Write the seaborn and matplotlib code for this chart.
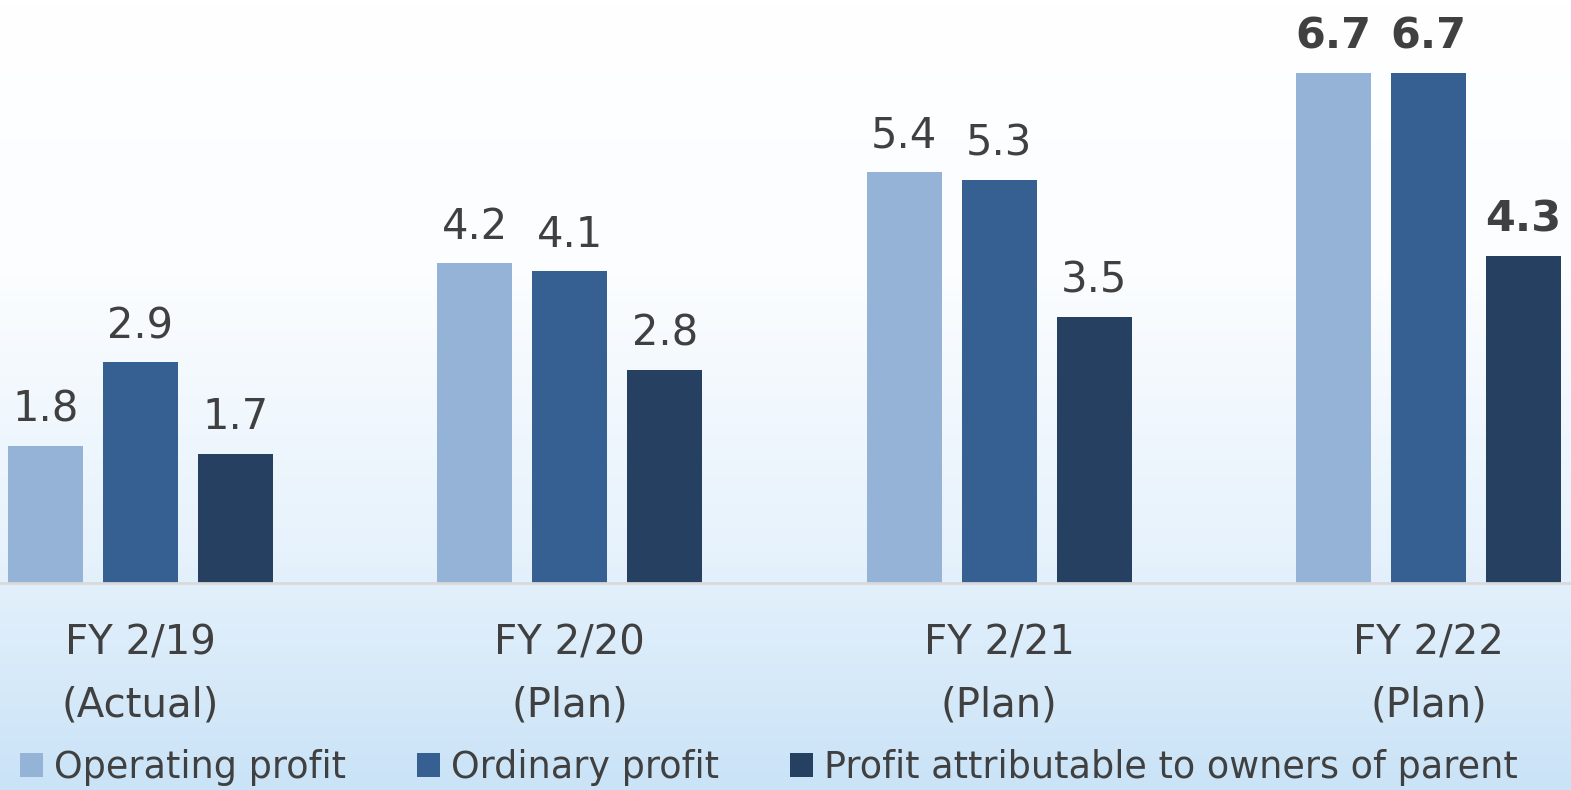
import numpy as np
import pandas as pd
import matplotlib
matplotlib.use("Agg")
import matplotlib.pyplot as plt
import seaborn as sns
from matplotlib.patches import Patch
from matplotlib.colors import LinearSegmentedColormap

categories = ["FY 2/19\n(Actual)", "FY 2/20\n(Plan)", "FY 2/21\n(Plan)", "FY 2/22\n(Plan)"]
series_names = ["Operating profit", "Ordinary profit", "Profit attributable to owners of parent"]
operating = [1.8, 4.2, 5.4, 6.7]
ordinary = [2.9, 4.1, 5.3, 6.7]
attributable = [1.7, 2.8, 3.5, 4.3]
colors = ["#95b3d7", "#376092", "#254061"]
text_color = "#404040"

sns.set_theme(style="white")
plt.rcParams["font.family"] = ["DejaVu Sans"]

df = pd.DataFrame({
    "category": categories * 3,
    "series": [series_names[0]] * 4 + [series_names[1]] * 4 + [series_names[2]] * 4,
    "value": operating + ordinary + attributable,
})

fig = plt.figure(figsize=(15.71, 7.90), dpi=100)

# background gradient
bg = fig.add_axes([0, 0, 1, 1], zorder=-10)
grad = np.linspace(0, 1, 256).reshape(-1, 1)
cmap = LinearSegmentedColormap.from_list(
    "bg", [(0, "#ffffff"), (0.35, "#fbfdff"), (0.7, "#e6f2fc"), (1.0, "#cae3f7")])
bg.imshow(grad, aspect="auto", cmap=cmap, extent=[0, 1, 1, 0])
bg.set_axis_off()

ax = fig.add_axes([0, 1 - 583 / 790, 1, 583 / 790])
ax.patch.set_alpha(0)
sns.barplot(data=df, x="category", y="value", hue="series", order=categories,
            hue_order=series_names, palette=colors, width=0.664, gap=0.21,
            saturation=1, ax=ax, legend=False, errorbar=None, linewidth=0)

ax.set_xlim(-0.327, 3.332)
ax.set_ylim(0, 583 / 76.1)
ax.set_xlabel("")
ax.set_ylabel("")
ax.set_yticks([])
for s in ["top", "left", "right"]:
    ax.spines[s].set_visible(False)
ax.spines["bottom"].set_color("#d9d9d9")
ax.spines["bottom"].set_linewidth(2)
ax.tick_params(axis="x", length=0, pad=29, labelsize=29, labelcolor=text_color)
for t in ax.get_xticklabels():
    t.set_linespacing(1.72)

for cont, vals in zip(ax.containers, [operating, ordinary, attributable]):
    texts = ax.bar_label(cont, labels=[f"{v:.1f}" for v in vals], padding=11,
                         fontsize=30, color=text_color)
    texts[-1].set_fontweight("bold")
    texts[-1].set_fontsize(31)

handles = [Patch(facecolor=c, edgecolor="none") for c in colors]
fig.legend(handles, series_names, loc="center left", bbox_to_anchor=(0.013, 0.029),
           ncol=3, frameon=False, fontsize=26.3, labelcolor=text_color,
           handlelength=0.62, handleheight=0.62, handletextpad=0.3,
           columnspacing=1.95, borderpad=0, borderaxespad=0)

fig.savefig("out.png", dpi=100)
